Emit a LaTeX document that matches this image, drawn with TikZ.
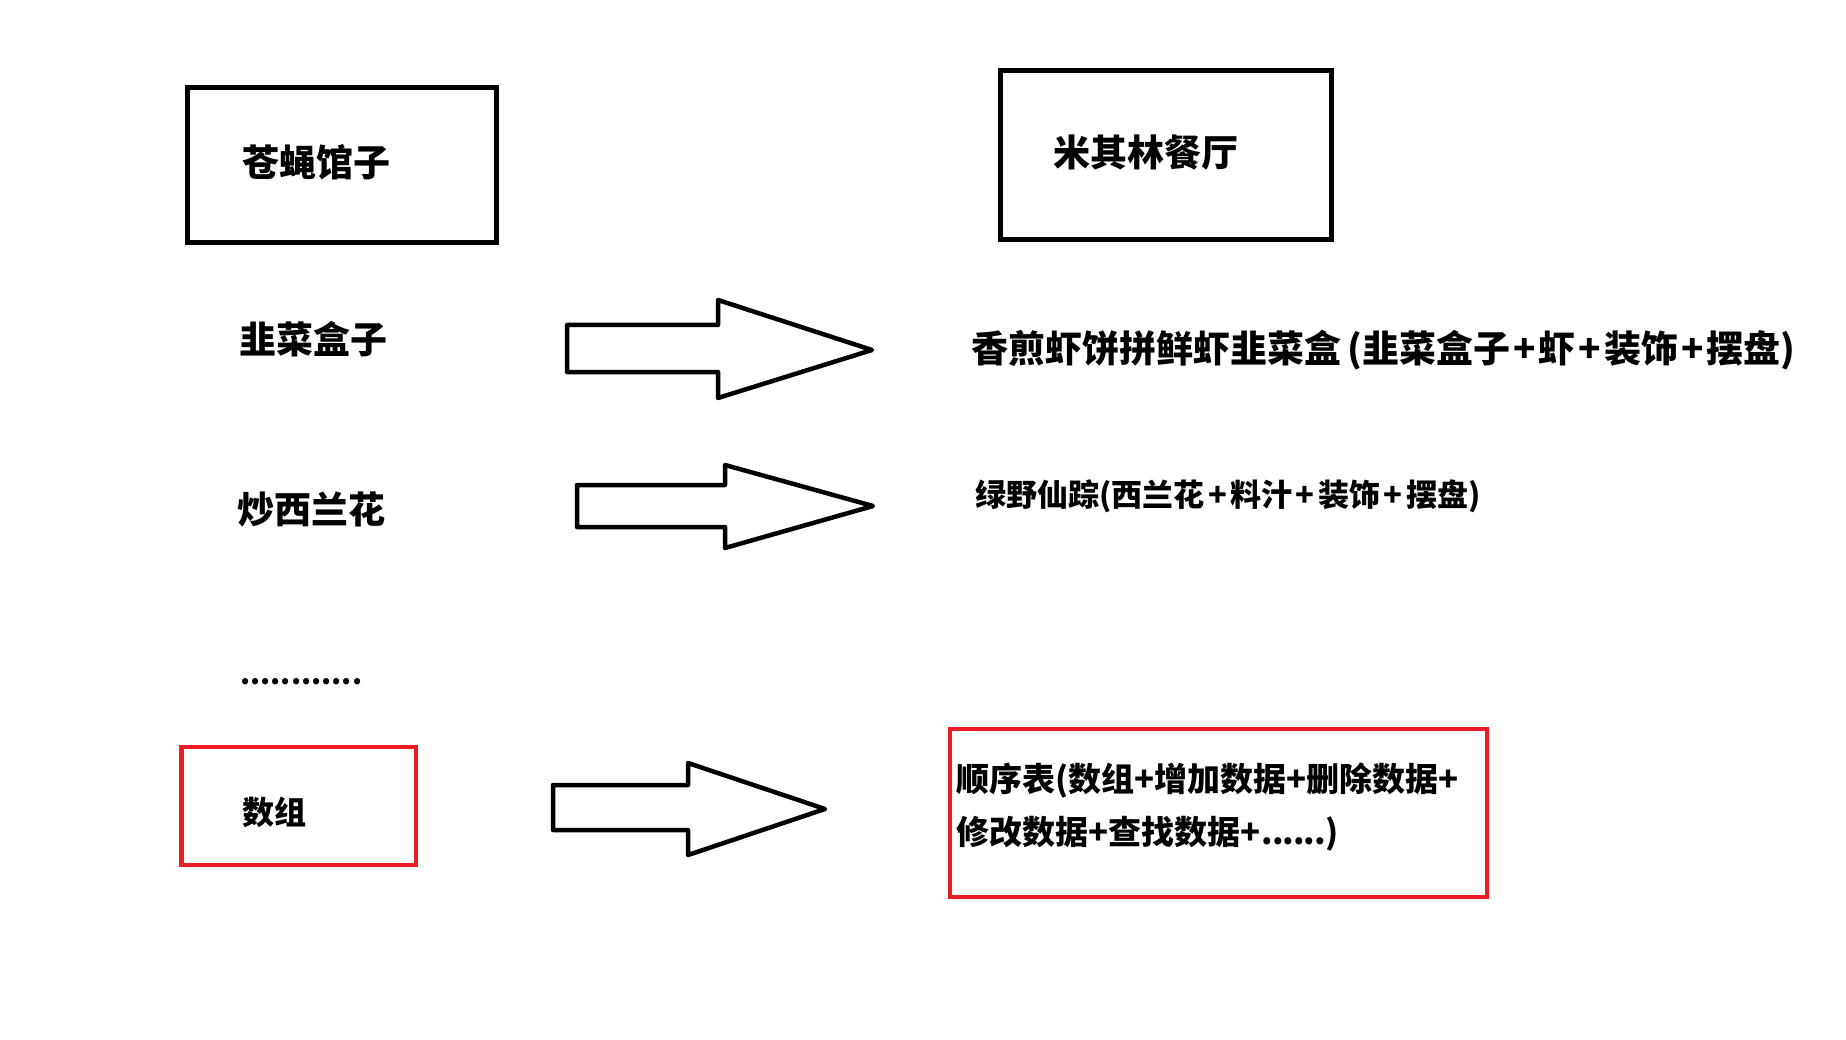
\documentclass[tikz,border=0pt]{standalone}
\usepackage{fontspec}
\newfontfamily\cjk{Noto Sans CJK SC}
\definecolor{boxred}{HTML}{ED1C24}
\newcommand{\pl}[1]{\hspace{#1}+\hspace{#1}}
\tikzset{
  blackbox/.style={draw=black, line width=5pt},
  redbox/.style={draw=boxred, line width=4.5pt},
  blockarrow/.style={draw=black, line width=4.5pt, line join=round, fill=white},
  txt/.style={anchor=west, inner sep=0pt, font=\cjk\bfseries},
}
\begin{document}
\begin{tikzpicture}[x=1pt,y=-1pt]
\useasboundingbox[fill=white] (0,0) rectangle (1846,1040);
% boxes
\draw[blackbox] (187.5,87.5) rectangle (496,243);
\draw[blackbox] (1000,71) rectangle (1331,240);
\draw[redbox] (181.5,747) rectangle (416,865);
\draw[redbox] (950,729) rectangle (1487,897);
% block arrows
\draw[blockarrow] (567,325) -- (718,325) -- (718,300) -- (872,350) -- (718,398) -- (718,372) -- (567,372) -- cycle;
\draw[blockarrow] (577,485) -- (725,485) -- (725,465) -- (873,506) -- (725,548) -- (725,527) -- (577,527) -- cycle;
\draw[blockarrow] (553,785) -- (688,785) -- (688,763) -- (825,809) -- (688,855) -- (688,830) -- (553,830) -- cycle;
% texts
\node[txt, font=\cjk\bfseries\fontsize{37}{44}\selectfont] (t1) at (242,162) {苍蝇馆子};
\node[txt, font=\cjk\bfseries\fontsize{37}{44}\selectfont] (t2) at (1053,153) {米其林餐厅};
\node[txt, font=\cjk\bfseries\fontsize{37}{44}\selectfont] (t3) at (239,339) {韭菜盒子};
\node[txt, font=\cjk\bfseries\fontsize{37}{44}\selectfont] (t4) at (971,350) {香煎虾饼拼鲜虾韭菜盒\hspace{6pt}(韭菜盒子\pl{3pt}虾\pl{3pt}装饰\pl{3pt}摆盘)};
\node[txt, font=\cjk\bfseries\fontsize{37}{44}\selectfont] (t5) at (237,510) {炒西兰花};
\node[txt, font=\cjk\bfseries\fontsize{31}{37}\selectfont] (t6) at (975,496) {绿野仙踪(西兰花\pl{3.5pt}料汁\pl{3.5pt}装饰\pl{3.5pt}摆盘)};
\node[txt, font=\cjk\bfseries\fontsize{29}{35}\selectfont] (t7) at (240,682) {............};
\node[txt, font=\cjk\bfseries\fontsize{32}{38}\selectfont] (t8) at (242,812) {数组};
\node[txt, font=\cjk\bfseries\fontsize{33}{40}\selectfont] (t9) at (956,781) {顺序表(数组+增加数据+删除数据+};
\node[txt, font=\cjk\bfseries\fontsize{33}{40}\selectfont] (t10) at (956,834) {修改数据+查找数据+\hspace{1pt}.\hspace{-1pt}.\hspace{-1pt}.\hspace{-1pt}.\hspace{-1pt}.\hspace{-1pt}.)};
\end{tikzpicture}
\end{document}
